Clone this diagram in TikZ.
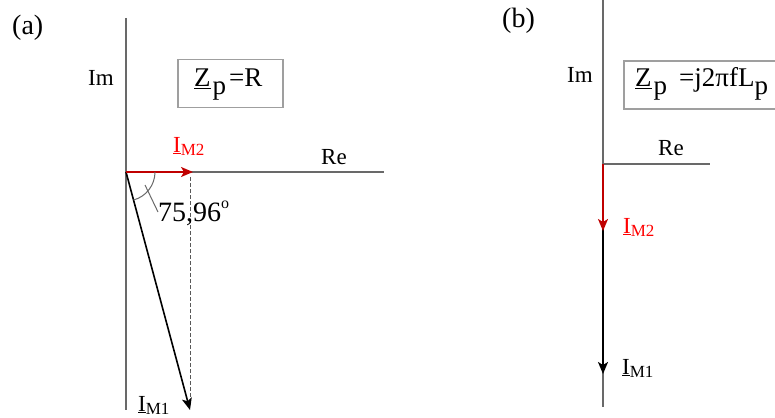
\documentclass[tikz,border=0pt]{standalone}
\usepackage{fontspec}
\setmainfont{Liberation Serif}
\usetikzlibrary{arrows.meta}
\definecolor{axisgray}{RGB}{105,105,105}
\definecolor{vecred}{RGB}{192,0,0}
\definecolor{lblred}{RGB}{255,0,0}
\newcommand{\curlbl}[1]{\underline{I}\raisebox{-0.15em}{\fontsize{17}{17}\selectfont M#1}}
\newcommand{\psub}{\raisebox{-0.26em}{\fontsize{27}{27}\selectfont p}}
\newcommand{\zsub}{\underline{Z}\hspace{2pt}\psub}
\begin{document}
\begin{tikzpicture}[x=1pt,y=-1pt,
  axis/.style={draw=axisgray, line width=1.2pt},
  lbl/.style={font=\fontsize{23}{23}\selectfont, inner sep=0pt, anchor=base west},
  tag/.style={font=\fontsize{28}{28}\selectfont, inner sep=0pt, anchor=base west},
  curr/.style={font=\fontsize{23}{23}\selectfont, inner sep=0pt, anchor=base west},
  ztext/.style={font=\fontsize{27}{27}\selectfont, inner sep=0pt, anchor=base west},
  zbox/.style={draw=gray!75, line width=1.6pt, minimum height=48pt, inner sep=0pt},
  vec/.style={line width=1.6pt, -{Stealth[length=12pt,width=10pt,inset=3pt]}},
  guide/.style={draw=gray!70!black, line width=1.1pt, dash pattern=on 3.5pt off 2.5pt}]
\useasboundingbox (0,0) rectangle (775,417);

% ---------- (a) ----------
\node[tag] (la) at (12,35) {(a)};
\coordinate (Oa) at (126,172);
\coordinate (ImTopA) at (126,18);
\coordinate (ImBotA) at (126,410);
\coordinate (ReEndA) at (384,172);
\draw[axis] (ImTopA) -- (ImBotA);
\draw[axis] (Oa) -- (ReEndA);
\node[lbl] (ima) at (88,86) {Im};
\node[lbl] (rea) at (321,164) {Re};
\node[zbox, minimum width=105pt] (za) at (230.5,83.5) {};
\node[ztext] (zat) at (194,87) {\zsub\hspace{3pt}=R};

\coordinate (M2a) at (193,172);
\coordinate (M1a) at (190,410);
\coordinate (DtopA) at (190.5,177);
\coordinate (DbotA) at (190.5,405);
\draw[guide] (DtopA) -- (DbotA);
\draw[vec, black] (Oa) -- (M1a);
\draw[vec, vecred] (Oa) -- (M2a);
\node[curr, text=lblred] (i2a) at (173,152) {\curlbl{2}};
\node[curr] (i1a) at (138,411) {\curlbl{1}};

\draw[draw=axisgray, line width=1pt] (Oa) ++(29,0) arc[start angle=0, end angle=75, radius=29];
\coordinate (LeadS) at (145,185);
\coordinate (LeadE) at (158,212);
\draw[draw=axisgray, line width=1pt] (LeadS) -- (LeadE);
\node[inner sep=0pt, anchor=base west, font=\fontsize{28}{28}\selectfont] (ang) at (158,221) {75,96\raisebox{0.45em}{\fontsize{16}{16}\selectfont o}};

% ---------- (b) ----------
\node[tag] (lb) at (502,28) {(b)};
\coordinate (Ob) at (603,164);
\coordinate (ImTopB) at (603,0);
\coordinate (ImBotB) at (603,407);
\coordinate (ReEndB) at (710,164);
\draw[axis] (ImTopB) -- (ImBotB);
\draw[axis] (Ob) -- (ReEndB);
\node[lbl] (imb) at (567,83) {Im};
\node[lbl] (reb) at (658,155) {Re};
\node[zbox, minimum width=220pt, anchor=west] (zb) at (623,85) {};
\node[ztext] (zbt) at (635,87) {\zsub\hspace{12pt}=j2πfL\psub};

\coordinate (M1b) at (603,374);
\coordinate (M2b) at (603,231);
\draw[vec, black] (Ob) -- (M1b);
\draw[vec, vecred] (Ob) -- (M2b);
\node[curr, text=lblred] (i2b) at (623,233) {\curlbl{2}};
\node[curr] (i1b) at (622,374) {\curlbl{1}};
\end{tikzpicture}
\end{document}
